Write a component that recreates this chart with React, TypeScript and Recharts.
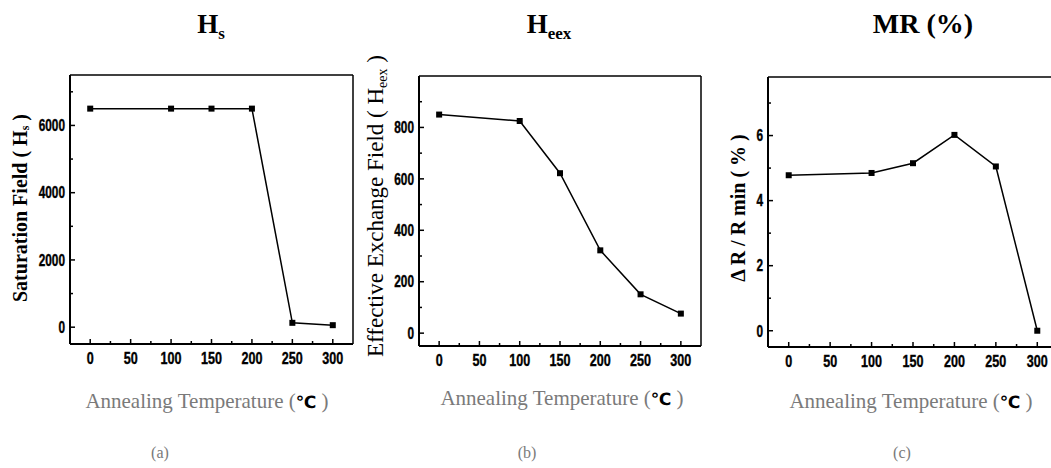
import React from 'react';
import { LineChart, Line, XAxis, YAxis, ReferenceLine } from 'recharts';

// annealing temperatures (°C)
const temps = [0, 100, 150, 200, 250, 300];
// (a) saturation field Hs
const saturationField = [6500, 6500, 6500, 6500, 130, 60];
// (b) effective exchange field Heex
const exchangeField = [850, 825, 622, 322, 151, 76];
// (c) MR ratio, %
const mrPercent = [4.78, 4.85, 5.15, 6.02, 5.05, 0];

const xTicks = [0, 25, 50, 75, 100, 125, 150, 175, 200, 225, 250, 275, 300];
const hsTicks = [0, 1000, 2000, 3000, 4000, 5000, 6000, 7000];
const heexTicks = [0, 100, 200, 300, 400, 500, 600, 700, 800, 900];
const mrTicks = [0, 1, 2, 3, 4, 5, 6, 7];

const TICK_FONT = '"Liberation Sans", Arial, sans-serif';
const SERIF = '"Liberation Serif", "Times New Roman", serif';
const GRAY = '#7a7a7a';

// narrow bold digits: a bold sans squeezed horizontally like the scan
const TickText = ({ x, y, anchor, value, dy, size }: any) => (
  <text
    transform={`translate(${x},${y}) scale(0.74,1)`}
    dy={dy}
    textAnchor={anchor}
    fontFamily={TICK_FONT}
    fontWeight="bold"
    fontSize={size}
    fill="#000"
    stroke="#000"
    strokeWidth={0.4}
  >
    {value}
  </text>
);

const xTick = (props: any) => {
  const { x, y, payload } = props;
  const major = payload.value % 50 === 0;
  return (
    <g>
      <line x1={x} x2={x} y1={y} y2={y - (major ? 5 : 3)} stroke="#000" strokeWidth={1.5} />
      {major && <TickText x={x} y={y + 20} anchor="middle" value={payload.value} size={17} />}
    </g>
  );
};

const makeYTick = (step: number) => (props: any) => {
  const { x, y, payload } = props;
  const major = payload.value % step === 0;
  return (
    <g>
      <line x1={x} x2={x + (major ? 5 : 3)} y1={y} y2={y} stroke="#000" strokeWidth={1.5} />
      {major && <TickText x={x - 5} y={y} dy="0.36em" anchor="end" value={payload.value} size={16} />}
    </g>
  );
};

const SquareDot = (props: any) => (
  <rect key={props.index} x={props.cx - 3} y={props.cy - 3} width={6} height={6} fill="#000" />
);

type PanelProps = {
  left: number;
  width: number;
  margin: { top: number; right: number; bottom: number; left: number };
  values: number[];
  yDomain: [number, number];
  yTicks: number[];
  yStep: number;
};

const Panel = ({ left, width, margin, values, yDomain, yTicks, yStep }: PanelProps) => {
  const data = temps.map((t, i) => ({ t, v: values[i] }));
  return (
    <div style={{ position: 'absolute', left, top: 0 }}>
      <LineChart width={width} height={468} data={data} margin={margin}>
        <XAxis
          dataKey="t"
          type="number"
          domain={[-25, 325]}
          ticks={xTicks}
          interval={0}
          tick={xTick}
          tickSize={0}
          tickMargin={0}
          tickLine={false}
          height={30}
          axisLine={{ stroke: '#000', strokeWidth: 2 }}
          allowDataOverflow
        />
        <YAxis
          type="number"
          domain={yDomain}
          ticks={yTicks}
          interval={0}
          tick={makeYTick(yStep)}
          tickSize={0}
          tickMargin={0}
          tickLine={false}
          width={60}
          axisLine={{ stroke: '#000', strokeWidth: 2 }}
          allowDataOverflow
        />
        <ReferenceLine y={yDomain[1]} stroke="#000" strokeWidth={1.5} />
        <ReferenceLine x={325} stroke="#000" strokeWidth={1.5} />
        <Line
          dataKey="v"
          type="linear"
          stroke="#000"
          strokeWidth={1.5}
          dot={SquareDot}
          activeDot={false}
          isAnimationActive={false}
        />
      </LineChart>
    </div>
  );
};

const XTitle = ({ cx, y }: { cx: number; y: number }) => (
  <text x={cx} y={y} textAnchor="middle" fontFamily={SERIF} fontSize={21} fill={GRAY}>
    Annealing Temperature (
    <tspan fill="#000" fontWeight="bold" fontFamily='"DejaVu Sans", sans-serif' fontSize={17}>℃</tspan>
    {' )'}
  </text>
);

const Texts = () => (
  <svg width={1051} height={468} style={{ position: 'absolute', left: 0, top: 0, pointerEvents: 'none' }}>
    {/* titles */}
    <text x={211} y={33} textAnchor="middle" fontFamily={SERIF} fontWeight="bold" fontSize={27} fill="#000">
      H<tspan fontSize={17} dy={6}>s</tspan>
    </text>
    <text x={549} y={33} textAnchor="middle" fontFamily={SERIF} fontWeight="bold" fontSize={27} fill="#000">
      H<tspan fontSize={17} dy={6}>eex</tspan>
    </text>
    <text x={923} y={33} textAnchor="middle" fontFamily={SERIF} fontWeight="bold" fontSize={28} fill="#000">
      MR (%)
    </text>

    {/* y axis titles */}
    <text transform="translate(27,208) rotate(-90)" textAnchor="middle" fontFamily={SERIF} fontWeight="bold" fontSize={20} fill="#000">
      Saturation Field ( H<tspan fontSize={12} dy={2}>s</tspan><tspan dy={-2}> )</tspan>
    </text>
    <text transform="translate(383,206) rotate(-90)" textAnchor="middle" fontFamily={SERIF} fontSize={23} fill="#000">
      Effective Exchange Field ( H<tspan fontSize={14} dy={4}>eex</tspan><tspan dy={-4}> )</tspan>
    </text>
    <text transform="translate(745,208) rotate(-90)" textAnchor="middle" fontFamily={SERIF} fontWeight="bold" fontSize={20} fill="#000">
      Δ R / R min ( % )
    </text>

    {/* x axis titles */}
    <XTitle cx={207} y={408} />
    <XTitle cx={562} y={405} />
    <XTitle cx={911} y={408} />

    {/* panel letters */}
    <text x={160} y={458} textAnchor="middle" fontFamily={SERIF} fontSize={16} fill={GRAY}>(a)</text>
    <text x={527} y={458} textAnchor="middle" fontFamily={SERIF} fontSize={16} fill={GRAY}>(b)</text>
    <text x={902} y={458} textAnchor="middle" fontFamily={SERIF} fontSize={16} fill={GRAY}>(c)</text>
  </svg>
);

export default function App() {
  return (
    <div style={{ position: 'absolute', left: 0, top: 0, width: 1051, height: 468, overflow: 'hidden', background: '#fff' }}>
      <Panel
        left={0}
        width={360}
        margin={{ top: 75, right: 7, bottom: 94, left: 10 }}
        values={saturationField}
        yDomain={[-500, 7500]}
        yTicks={hsTicks}
        yStep={2000}
      />
      <Panel
        left={350}
        width={360}
        margin={{ top: 76, right: 9, bottom: 92, left: 9 }}
        values={exchangeField}
        yDomain={[-50, 1000]}
        yTicks={heexTicks}
        yStep={200}
      />
      <Panel
        left={700}
        width={362}
        margin={{ top: 77, right: 4, bottom: 91, left: 8 }}
        values={mrPercent}
        yDomain={[-0.5, 7.8]}
        yTicks={mrTicks}
        yStep={2}
      />
      <Texts />
    </div>
  );
}
